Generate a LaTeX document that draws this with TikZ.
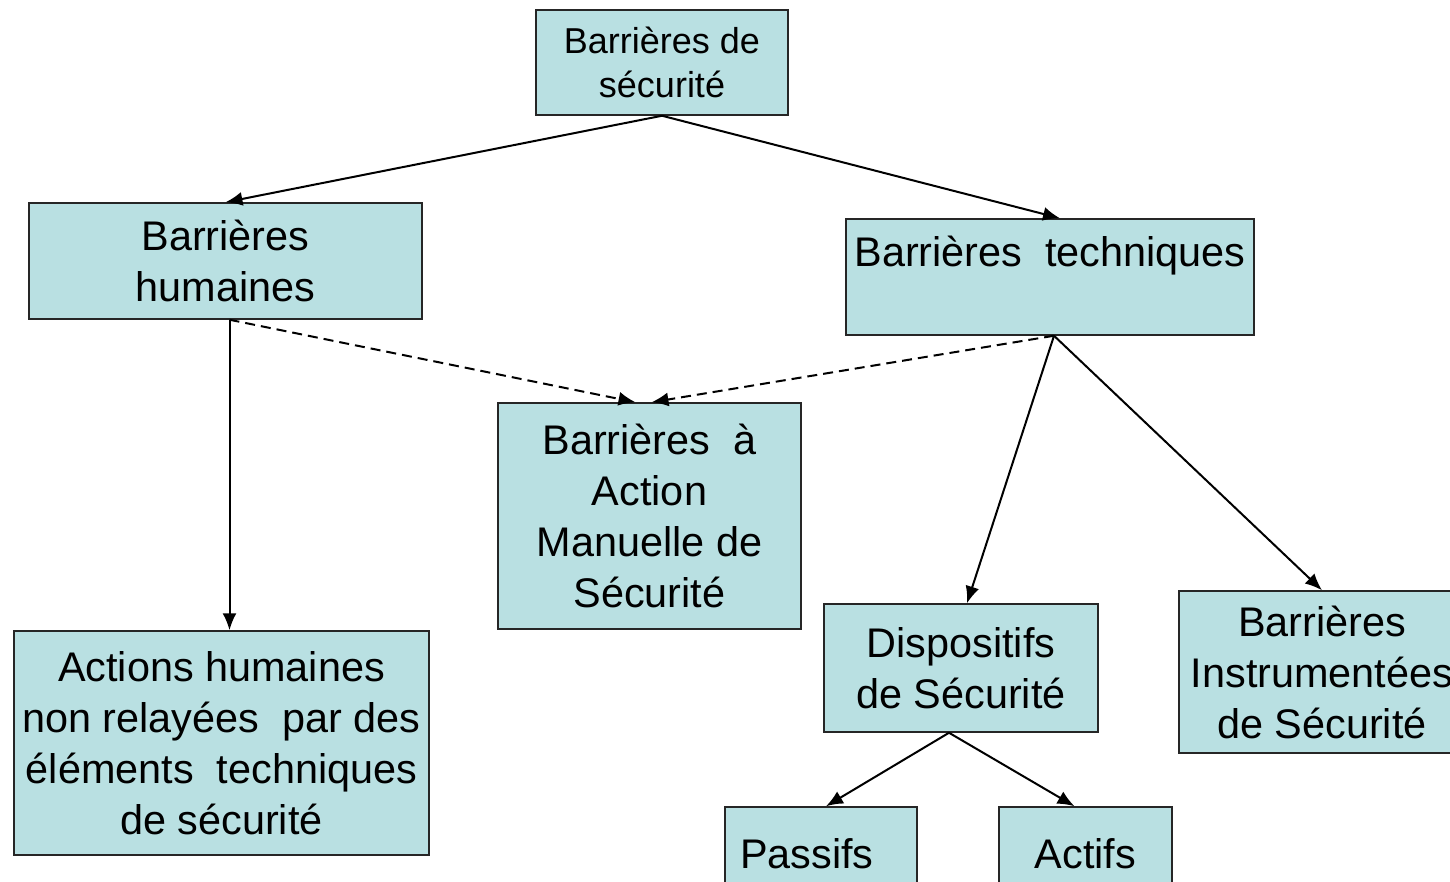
\documentclass[tikz,border=0pt]{standalone}
\usepackage{fontspec}
\setmainfont{Liberation Sans}
\usepackage{xcolor}
\usetikzlibrary{arrows.meta}
\definecolor{caixa}{RGB}{185,224,226}

\begin{document}
\begin{tikzpicture}[x=0.5pt, y=-0.5pt,
    bloco/.style={draw=black!85, line width=0.75, fill=caixa, align=center, inner sep=0,
        font=\fontsize{20.7}{25.5}\selectfont},
    seta/.style={-{Latex[length=8.5pt, width=7pt]}, line width=1},
    tracejada/.style={seta, dash pattern=on 5pt off 3pt}]
            \clip (0,0) rectangle (1450,882);
            % Caixas
            \node[bloco, minimum width=126pt, minimum height=52.5pt, font=\fontsize{18}{22}\selectfont] (seg) at (662,62.5) {Barrières de\\sécurité};
            \node[bloco, minimum width=196.5pt, minimum height=58pt] (hum) at (225.5,261) {Barrières\\humaines};
            \node[bloco, minimum width=204pt, minimum height=58pt] (tec) at (1050,277) {Barrières\ \ techniques\\\mbox{}};
            \node[bloco, minimum width=151.5pt, minimum height=113pt] (bams) at (649.5,516) {Barrières\ \ à\\Action\\Manuelle de\\Sécurité};
            \node[bloco, minimum width=207.5pt, minimum height=112pt] (acoes) at (221.5,743) {Actions humaines\\non relayées\ \ par des\\éléments\ \ techniques\\de sécurité};
            \node[bloco, minimum width=137pt, minimum height=64pt] (disp) at (961,668) {Dispositifs\\de Sécurité};
            \node[bloco, minimum width=143pt, minimum height=81pt] (bis) at (1322,672) {Barrières\\Instrumentées\\de Sécurité};
            \node[bloco, minimum width=96pt, minimum height=46.5pt, align=left, text width=81pt, inner xsep=7.5pt] (pas) at (821,853.5) {Passifs};
            \node[bloco, minimum width=86.5pt, minimum height=46.5pt] (actf) at (1085.5,853.5) {Actifs};
            % Setas
            \draw[seta] (seg.south) -- (hum.north);
            \draw[seta] (seg.south) -- ([xshift=5pt]tec.north);
            \draw[seta] ([xshift=2pt]hum.south) -- ([xshift=2pt]acoes.north -| hum.south);
            \draw[tracejada] ([xshift=2pt]hum.south) -- ([xshift=-7pt]bams.north);
            \draw[tracejada] ([xshift=2pt]tec.south) -- ([xshift=1pt]bams.north);
            \draw[seta] ([xshift=2pt]tec.south) -- ([xshift=3pt]disp.north);
            \draw[seta] ([xshift=2pt]tec.south) -- (bis.north);
            \draw[seta] ([xshift=-6pt]disp.south) -- ([xshift=2.5pt]pas.north);
            \draw[seta] ([xshift=-6pt]disp.south) -- ([xshift=-5.5pt]actf.north);
\end{tikzpicture}
\end{document}
